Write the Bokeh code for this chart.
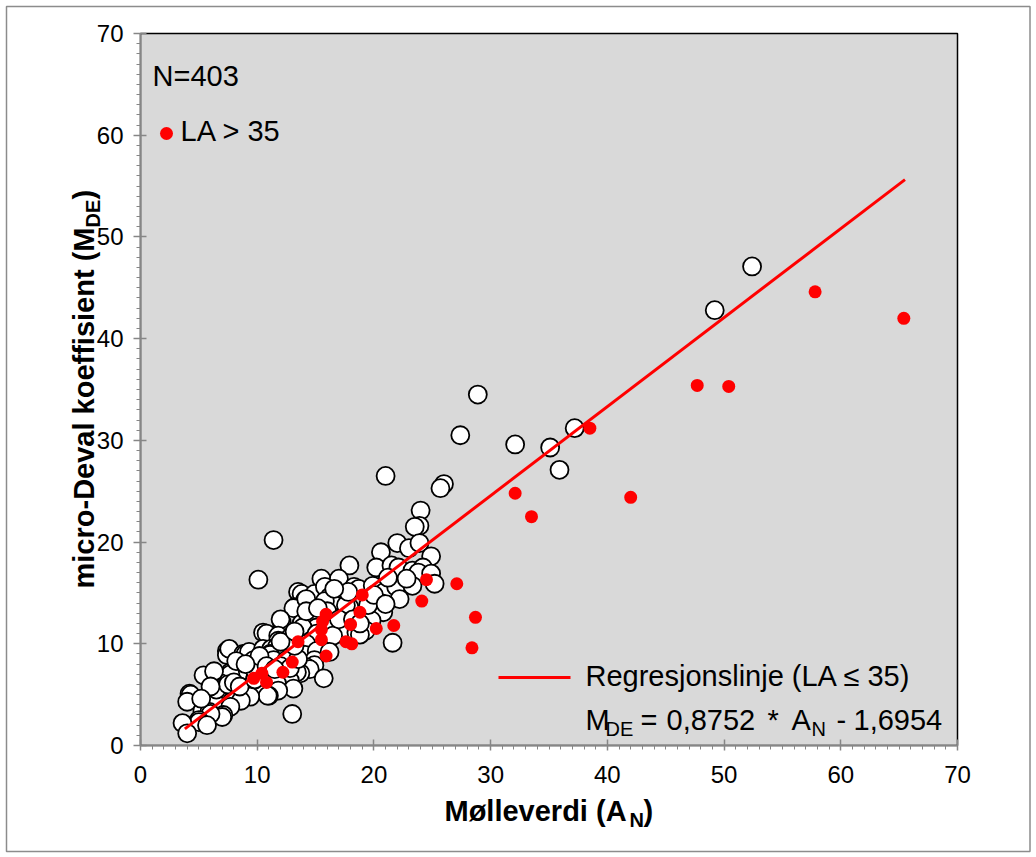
import numpy as np
from bokeh.plotting import figure
from bokeh.models import Label, SingleIntervalTicker, Range1d, ColumnDataSource
from bokeh.embed import file_html
from bokeh.resources import INLINE

# LA <= 35 (white circles): Mølleverdi (A_N), micro-Deval (M_DE)
white_x = [52.4, 49.2, 28.9, 27.4, 32.1, 35.1, 37.2, 35.9, 21.0, 26.0, 25.7, 24.0, 23.9, 23.5,
           11.4, 22.0, 20.6, 23.0, 23.9, 24.9, 17.9, 20.2, 21.5, 22.1, 23.3, 24.2, 23.8, 24.9,
           25.2, 15.5, 17.0, 10.1, 13.5, 13.8, 14.9, 15.8, 16.2, 17.3, 18.3, 18.7, 19.9, 20.9,
           21.9, 23.3, 22.2, 20.6, 14.1, 13.2, 16.8, 17.1, 17.9, 19.9, 20.8, 13.1, 14.2, 16.5,
           17.6, 12.1, 12.0, 13.8, 14.6, 14.8, 16.5, 19.8, 19.3, 17.4, 18.5, 15.1, 13.9, 16.2,
           10.5, 10.8, 11.8, 12.8, 14.6, 15.1, 17.1, 16.5, 18.5, 18.8, 21.6, 11.8, 14.2, 7.4,
           7.4, 7.6, 8.8, 9.0, 9.3, 10.5, 11.2, 11.7, 11.1, 12.5, 12.3, 12.5, 14.1, 15.1,
           16.2, 10.5, 11.1, 11.4, 12.5, 9.7, 14.9, 14.9, 14.2, 14.5, 13.7, 13.4, 8.6, 9.4,
           7.7, 8.6, 11.1, 15.7, 9.0, 11.4, 12.8, 11.7, 13.1, 8.4, 7.7, 6.9, 5.6, 5.4,
           6.3, 7.0, 9.3, 10.0, 11.8, 11.0, 10.9, 9.4, 8.1, 6.6, 4.2, 4.3, 4.0, 5.9,
           6.3, 7.8, 8.6, 7.7, 5.3, 5.9, 7.1, 7.0, 6.0, 5.0, 5.0, 5.7, 3.6, 4.0, 13.0,
           6.5, 7.5, 8.0, 6.0, 5.2, 8.5, 9.8, 10.3, 9.8, 10.2, 8.2, 9.0,
           12.0, 12.8, 13.5, 10.8, 11.5, 13.2, 12.0, 13.2,
           15.8, 16.0, 17.0, 18.2, 18.8, 19.5, 17.8, 16.6, 14.2, 15.2, 20.0, 21.0, 22.8, 21.2]
white_y = [47.1, 42.8, 34.5, 30.5, 29.6, 29.3, 31.2, 27.1, 26.5, 25.7, 25.3, 23.1, 21.6, 21.5,
           20.2, 19.9, 19.0, 19.4, 19.9, 18.6, 17.7, 17.5, 17.7, 17.5, 17.2, 17.5, 17.0, 16.9,
           15.9, 16.4, 16.4, 16.3, 15.1, 14.9, 14.9, 15.6, 14.6, 14.5, 15.6, 15.4, 15.7, 15.1,
           15.6, 15.7, 14.4, 14.0, 14.3, 13.6, 13.6, 13.6, 13.6, 13.8, 13.1, 13.5, 14.4, 13.9,
           13.8, 12.1, 12.4, 12.0, 12.3, 12.6, 12.6, 12.3, 11.3, 11.3, 11.0, 11.6, 11.6, 11.6,
           11.1, 11.0, 10.8, 10.6, 10.3, 11.0, 11.0, 10.8, 11.1, 10.9, 10.1, 10.3, 10.0, 9.3,
           8.9, 9.5, 9.0, 9.0, 9.2, 9.5, 9.5, 9.7, 9.0, 9.0, 9.5, 9.3, 8.9, 9.3,
           9.2, 8.5, 8.9, 8.4, 8.4, 8.4, 8.4, 7.9, 7.7, 7.5, 7.1, 7.2, 7.5, 7.7,
           7.2, 7.0, 7.0, 6.6, 6.4, 6.4, 6.4, 6.1, 5.6, 6.7, 7.0, 6.1, 6.8, 6.9,
           7.3, 5.7, 5.7, 5.6, 5.4, 4.9, 4.9, 4.8, 5.2, 4.8, 5.1, 5.0, 4.3, 4.4,
           4.3, 4.3, 4.4, 3.8, 3.4, 3.3, 3.0, 2.8, 3.1, 2.5, 2.3, 2.0, 2.2, 1.2, 3.1,
           5.5, 6.0, 6.2, 5.8, 4.6, 5.8, 6.5, 7.5, 7.4, 8.8, 8.3, 8.0,
           7.8, 7.6, 8.5, 7.8, 7.5, 9.8, 10.2, 11.2,
           14.2, 13.2, 12.4, 12.4, 12.0, 13.8, 15.1, 15.4, 13.2, 13.5, 14.8, 13.9, 16.4, 16.5]

# LA > 35 (red dots)
red_x = [9.7, 10.4, 10.8, 12.2, 13.0, 13.5, 15.5, 15.5, 15.6, 15.9, 15.9, 17.6, 18.1, 18.0,
         18.8, 19.0, 20.2, 21.7, 24.1, 24.5, 27.1, 28.4, 28.7, 32.1, 33.5, 38.5, 42.0, 47.7,
         50.4, 57.8, 65.4]
red_y = [6.6, 7.1, 6.2, 7.2, 8.2, 10.2, 10.4, 11.4, 12.2, 12.9, 8.8, 10.2, 10.0, 11.9,
         13.1, 14.8, 11.5, 11.8, 14.2, 16.3, 15.9, 9.6, 12.6, 24.8, 22.5, 31.2, 24.4, 35.4,
         35.3, 44.6, 42.0]

# Regression (LA <= 35): M_DE = 0,8752 * A_N - 1,6954
slope = 0.8752
intercept = -1.6954
line_x = [3.8, 65.5]
line_y = [slope * v + intercept for v in line_x]

axis_min, axis_max = 0, 70
tick_interval = 10

FONT = "Liberation Sans"

# ---- layout: canvas pixels ----
W, H = 1034, 855
MB_L, MB_R, MB_T, MB_B = 0, 0, 0, 0
PX0, PX70 = 140.0, 957.0     # page x of data 0 and 70
PY0, PY70 = 745.0, 33.0      # page y of data 0 and 70
sx = (PX70 - PX0) / (axis_max - axis_min)
sy = (PY0 - PY70) / (axis_max - axis_min)
xr0 = axis_min - (PX0 - MB_L) / sx
xr1 = xr0 + (W - MB_L - MB_R) / sx
yr1 = axis_max + (PY70 - MB_T) / sy
yr0 = yr1 - (H - MB_T - MB_B) / sy

p = figure(width=W, height=H, x_range=Range1d(xr0, xr1), y_range=Range1d(yr0, yr1),
           output_backend="svg", toolbar_location=None,
           min_border_left=MB_L, min_border_right=MB_R, min_border_top=MB_T, min_border_bottom=MB_B)
p.background_fill_color = "white"
p.border_fill_color = "white"
p.outline_line_color = None
p.xgrid.visible = False
p.ygrid.visible = False

def px2x(px):
    return axis_min + (px - PX0) / sx

def py2y(py):
    return axis_min + (PY0 - py) / sy

# chart border
p.quad(left=[px2x(6)], right=[px2x(1029.5)], bottom=[py2y(851)], top=[py2y(6)],
       fill_color=None, line_color="#8c8c8c", line_width=1.5)

# plot area
p.quad(left=[axis_min], right=[axis_max], bottom=[axis_min], top=[axis_max],
       fill_color="#D9D9D9", line_color="black", line_width=1.5)

for ax in (p.xaxis, p.yaxis):
    ax.fixed_location = 0
    ax.bounds = (axis_min, axis_max)
    ax.ticker = SingleIntervalTicker(interval=tick_interval, num_minor_ticks=10)
    ax.axis_line_color = "#868686"
    ax.axis_line_width = 1.5
    ax.major_tick_line_color = "#868686"
    ax.minor_tick_line_color = "#868686"
    ax.major_tick_line_width = 1.5
    ax.minor_tick_line_width = 1
    ax.major_tick_in = 6
    ax.minor_tick_in = 0
    ax.minor_tick_out = 4
    ax.major_label_text_font = FONT
    ax.major_label_text_font_size = "24px"
    ax.major_label_text_color = "black"
p.xaxis.major_tick_out = 5
p.xaxis.major_label_standoff = 15
p.yaxis.major_tick_out = 7
p.yaxis.major_label_standoff = 10

src_w = ColumnDataSource(dict(x=white_x, y=white_y))
src_r = ColumnDataSource(dict(x=red_x, y=red_y))
p.scatter("x", "y", source=src_w, size=18, fill_color="white", line_color="black", line_width=1.8)
p.scatter("x", "y", source=src_r, size=13, fill_color="#FF0000", line_color=None)
p.line(line_x, line_y, line_color="#FF0000", line_width=3)

def lab(px, py, text, size=29, bold=False, angle=0):
    # (px, py): left end of the text baseline in page pixels
    shift = 0.38 * size
    if angle:
        px = px - shift
    else:
        py = py - shift
    l = Label(x=px2x(px), y=py2y(py), text=text, text_font=FONT, text_font_size=f"{size}px",
              text_font_style="bold" if bold else "normal", text_color="black",
              text_align="left", text_baseline="alphabetic", angle=angle, angle_units="deg")
    p.add_layout(l)

# top-left legend
lab(152, 87, "N=403")
p.scatter([px2x(166)], [py2y(133)], size=13, fill_color="#FF0000", line_color=None)
lab(180, 142, "LA > 35")

# bottom-right legend
p.line([px2x(498), px2x(570)], [py2y(677)] * 2, line_color="#FF0000", line_width=3)
lab(585, 687, "Regresjonslinje (LA ≤ 35)")
lab(585, 731, "M")
lab(605, 736, "DE", size=20)
lab(640, 731, "=")
lab(666, 731, "0,8752")
lab(767, 731, "*")
lab(791, 731, "A")
lab(811, 736, "N", size=20)
lab(836, 731, "-")
lab(853, 731, "1,6954")

# x axis title
lab(444, 822, "Mølleverdi (A", bold=True)
lab(629, 827, "N", size=20, bold=True)
lab(643, 822, ")", bold=True)

# y axis title (rotated)
lab(95, 588, "micro-Deval koeffisient (M", bold=True, angle=90)
lab(100, 227, "DE", size=20, bold=True, angle=90)
lab(95, 199, ")", bold=True, angle=90)

open("out.html", "w").write(file_html(p, INLINE))
